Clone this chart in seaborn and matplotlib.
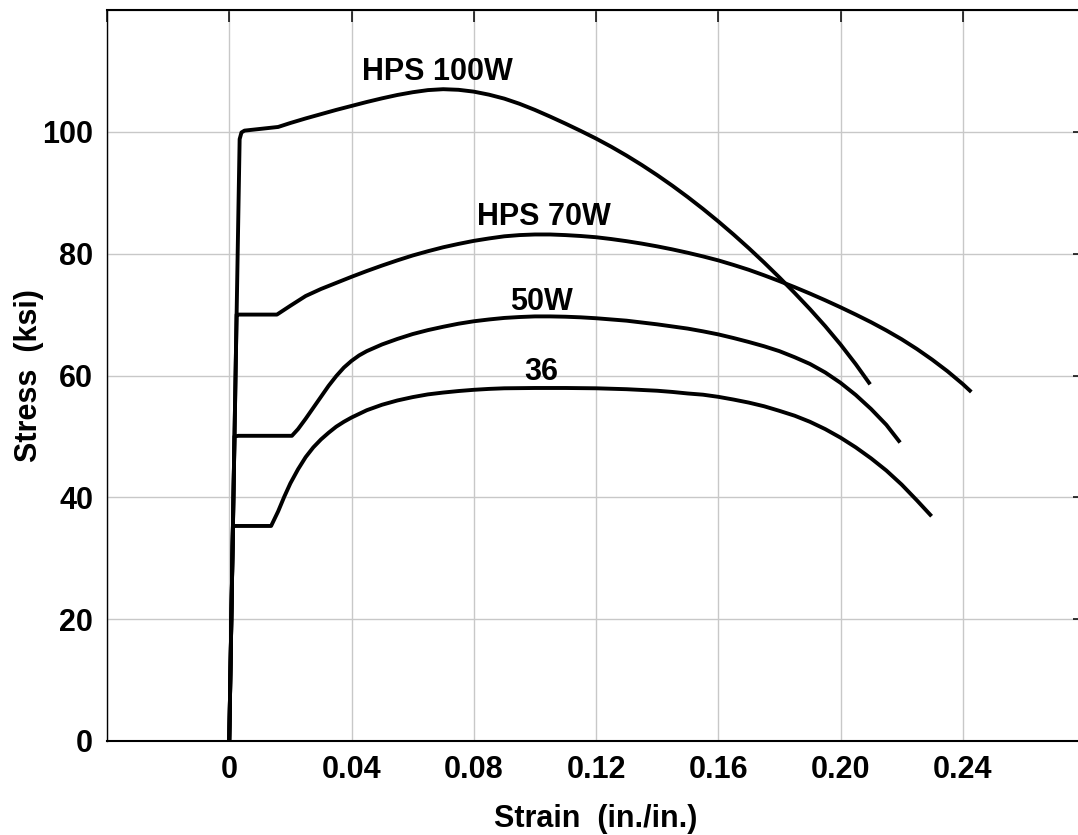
import matplotlib
matplotlib.use('Agg')
import matplotlib.pyplot as plt
import seaborn as sns
import pandas as pd

# Stress-strain curves (strain in in./in., stress in ksi)
strain_100w = [0, 0.0034, 0.0040, 0.0050, 0.0160, 0.020, 0.025, 0.030, 0.035,
               0.040, 0.045, 0.050, 0.055, 0.060, 0.065, 0.070, 0.075, 0.080,
               0.085, 0.090, 0.095, 0.100, 0.105, 0.110, 0.115, 0.120, 0.125,
               0.130, 0.135, 0.140, 0.145, 0.150, 0.155, 0.160, 0.165, 0.170,
               0.175, 0.180, 0.185, 0.190, 0.195, 0.200, 0.205, 0.2097]
stress_100w = [0, 98.8, 99.9, 100.2, 100.8, 101.45, 102.2, 102.9, 103.6,
               104.25, 104.9, 105.5, 106.05, 106.5, 106.85, 107.0, 106.9, 106.6,
               106.1, 105.45, 104.6, 103.6, 102.5, 101.35, 100.15, 98.9, 97.55,
               96.1, 94.55, 92.9, 91.15, 89.3, 87.35, 85.3, 83.15, 80.9,
               78.55, 76.1, 73.55, 70.9, 68.1, 65.1, 61.85, 58.55]

strain_70w = [0, 0.0024, 0.0030, 0.0156, 0.020, 0.025, 0.030, 0.035, 0.040,
              0.045, 0.050, 0.055, 0.060, 0.065, 0.070, 0.075, 0.080, 0.085,
              0.090, 0.095, 0.100, 0.105, 0.110, 0.115, 0.120, 0.125, 0.130,
              0.135, 0.140, 0.145, 0.150, 0.155, 0.160, 0.165, 0.170, 0.175,
              0.180, 0.185, 0.190, 0.195, 0.200, 0.205, 0.210, 0.215, 0.220,
              0.225, 0.230, 0.235, 0.240, 0.2428]
stress_70w = [0, 70.0, 70.0, 70.0, 71.45, 73.05, 74.2, 75.2, 76.2,
              77.15, 78.05, 78.9, 79.7, 80.4, 81.05, 81.6, 82.1, 82.5,
              82.85, 83.05, 83.15, 83.15, 83.05, 82.9, 82.7, 82.4, 82.05,
              81.65, 81.2, 80.7, 80.15, 79.55, 78.9, 78.15, 77.35, 76.45,
              75.5, 74.5, 73.45, 72.35, 71.2, 70.0, 68.75, 67.4, 65.95,
              64.35, 62.6, 60.7, 58.6, 57.3]

strain_50w = [0, 0.0017, 0.0030, 0.0205, 0.0225, 0.025, 0.0275, 0.030, 0.0325,
              0.035, 0.0375, 0.040, 0.0425, 0.045, 0.050, 0.055, 0.060, 0.065,
              0.070, 0.075, 0.080, 0.085, 0.090, 0.095, 0.100, 0.105, 0.110,
              0.115, 0.120, 0.125, 0.130, 0.135, 0.140, 0.145, 0.150, 0.155,
              0.160, 0.165, 0.170, 0.175, 0.180, 0.185, 0.190, 0.195, 0.200,
              0.205, 0.210, 0.215, 0.2195]
stress_50w = [0, 50.0, 50.1, 50.1, 51.2, 52.9, 54.7, 56.5, 58.3,
              59.9, 61.3, 62.4, 63.3, 64.0, 65.1, 66.0, 66.8, 67.45,
              68.0, 68.5, 68.9, 69.2, 69.45, 69.6, 69.7, 69.7, 69.65,
              69.55, 69.4, 69.2, 69.0, 68.7, 68.4, 68.05, 67.7, 67.25,
              66.75, 66.15, 65.5, 64.8, 64.0, 63.0, 61.9, 60.5, 58.8,
              56.8, 54.5, 51.9, 49.0]

strain_36 = [0, 0.0012, 0.0020, 0.0137, 0.016, 0.018, 0.020, 0.0225, 0.025,
             0.0275, 0.030, 0.0325, 0.035, 0.0375, 0.040, 0.045, 0.050, 0.055,
             0.060, 0.065, 0.070, 0.075, 0.080, 0.085, 0.090, 0.100, 0.110,
             0.120, 0.130, 0.140, 0.145, 0.150, 0.155, 0.160, 0.165, 0.170,
             0.175, 0.180, 0.185, 0.190, 0.195, 0.200, 0.205, 0.210, 0.215,
             0.220, 0.225, 0.2298]
stress_36 = [0, 35.2, 35.3, 35.3, 37.7, 40.1, 42.3, 44.6, 46.6,
             48.2, 49.5, 50.6, 51.6, 52.4, 53.1, 54.3, 55.2, 55.9,
             56.45, 56.9, 57.2, 57.45, 57.65, 57.8, 57.9, 57.95, 57.95,
             57.9, 57.75, 57.5, 57.3, 57.05, 56.85, 56.5, 56.05, 55.55,
             54.95, 54.2, 53.4, 52.4, 51.2, 49.8, 48.2, 46.4, 44.4,
             42.1, 39.5, 36.9]

grades = ['HPS 100W', 'HPS 70W', '50W', '36']
curves = {
    'HPS 100W': (strain_100w, stress_100w),
    'HPS 70W': (strain_70w, stress_70w),
    '50W': (strain_50w, stress_50w),
    '36': (strain_36, stress_36),
}
# label anchor (center x, baseline y) in data units
label_x = [0.0682, 0.103, 0.102, 0.102]
label_y = [108.5, 84.7, 70.8, 59.3]

x_ticks = [-0.04, 0, 0.04, 0.08, 0.12, 0.16, 0.20, 0.24, 0.28]
x_tick_labels = ['', '0', '0.04', '0.08', '0.12', '0.16', '0.20', '0.24', '']
y_ticks = [0, 20, 40, 60, 80, 100, 120]
y_tick_labels = ['0', '20', '40', '60', '80', '100', '']

sns.set_theme(style='white')
plt.rcParams['font.family'] = ['Liberation Sans', 'DejaVu Sans']
plt.rcParams['font.weight'] = 'bold'
plt.rcParams['text.color'] = 'black'
plt.rcParams['axes.labelcolor'] = 'black'

fig = plt.figure(figsize=(10.78, 8.35), dpi=100)
ax = fig.add_axes([107 / 1078, 94 / 835, 978 / 1078, 731 / 835])

for g in grades:
    df = pd.DataFrame({'strain': curves[g][0], 'stress': curves[g][1]})
    sns.lineplot(data=df, x='strain', y='stress', color='black', linewidth=2.8,
                 sort=False, estimator=None, ax=ax, zorder=3,
                 solid_capstyle='butt', solid_joinstyle='round')

for g, lx, ly in zip(grades, label_x, label_y):
    ax.text(lx, ly, g, ha='center', va='baseline', fontsize=22,
            fontweight='bold', color='black', zorder=4)

ax.set_xlim(-0.04, 0.28)
ax.set_ylim(0, 120)
ax.set_xticks(x_ticks)
ax.set_xticklabels(x_tick_labels)
ax.set_yticks(y_ticks)
ax.set_yticklabels(y_tick_labels)
ax.tick_params(direction='in', length=8.6, width=1.1, colors='black',
               labelsize=22, top=True, right=True, pad=10)
for lab in ax.get_xticklabels() + ax.get_yticklabels():
    lab.set_fontweight('bold')

ax.grid(True, color='#c8c8c8', linewidth=1.0, zorder=0)
for side, sp in ax.spines.items():
    sp.set_color('black')
    sp.set_linewidth(1.5 if side != 'left' else 1.0)
    sp.set_visible(True)

ax.set_xlabel('Strain  (in./in.)', fontsize=22, fontweight='bold', labelpad=14)
ax.set_ylabel('Stress  (ksi)', fontsize=22, fontweight='bold')
ax.yaxis.set_label_coords(-0.064, 0.5)

fig.savefig('out.png', dpi=100)
